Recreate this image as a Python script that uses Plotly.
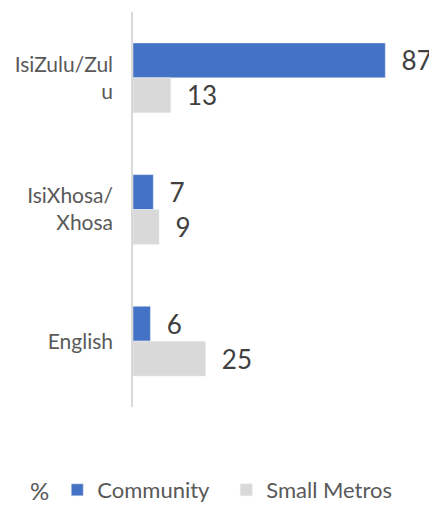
import plotly.graph_objects as go

# ── Data ──────────────────────────────────────────────────────────────────────
categories = ["IsiZulu/Zul<br>u", "IsiXhosa/<br>Xhosa", "English"]
community = [87, 7, 6]
small_metros = [13, 9, 25]

BLUE = "#4472C4"
GREY = "#D9D9D9"
TEXT = "#595959"
LABEL = "#404040"
FONT = "Lato, 'Open Sans', sans-serif"
PAD = "\u00a0\u00a0"

# page has an 8px body margin, so the figure is drawn 8px smaller
W, H = 429, 505
L, R, T, B = 125, 14, 4, 106
PW, PH = W - L - R, H - T - B

fig = go.Figure()
for name, vals, col in [("Community", community, BLUE),
                        ("Small Metros", small_metros, GREY)]:
    fig.add_trace(go.Bar(
        name=name,
        y=categories,
        x=vals,
        orientation="h",
        marker_color=col,
        texttemplate=PAD + "%{x}",
        textposition="outside",
        constraintext="none",
        textfont=dict(size=26, color=LABEL),
        cliponaxis=False,
    ))

fig.update_layout(
    width=W, height=H,
    barmode="group",
    bargap=0.47,
    bargroupgap=0,
    plot_bgcolor="white", paper_bgcolor="white",
    font=dict(family=FONT, color=TEXT, size=21),
    margin=dict(l=L, r=R, t=T, b=B, autoexpand=False),
    xaxis=dict(range=[0, 100], visible=False),
    yaxis=dict(
        autorange="reversed",
        automargin=False,
        showline=True, linecolor=GREY, linewidth=1.5,
        ticks="", showgrid=False,
        ticklabelstandoff=14,
        tickfont=dict(size=21, color=TEXT),
    ),
    legend=dict(
        orientation="h",
        x=(20 - L) / PW, xanchor="left",
        y=-(482 - (H - B)) / PH, yanchor="middle",
        title=dict(text="%", font=dict(size=24, color=TEXT)),
        font=dict(size=22, color=TEXT),
        itemwidth=30,
        entrywidth=124,
    ),
)

fig.write_html("out.html")
